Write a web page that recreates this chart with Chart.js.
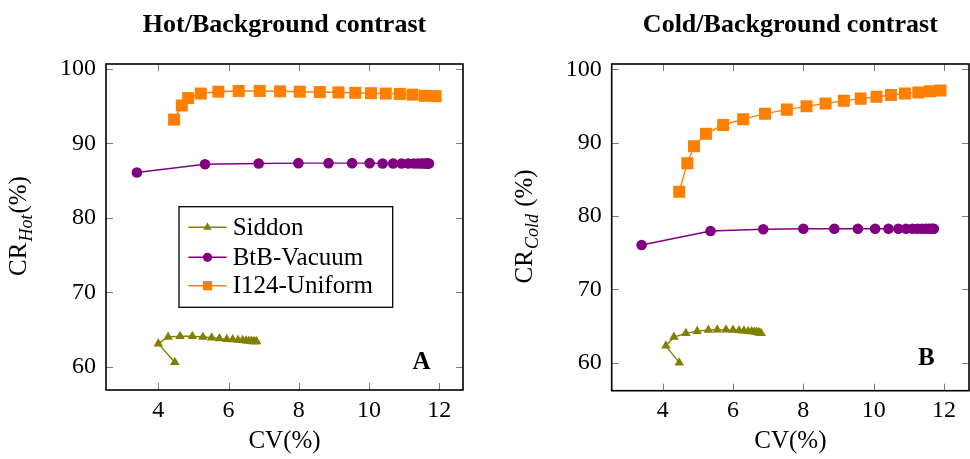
<!DOCTYPE html>
<html>
<head>
<meta charset="utf-8">
<script src="https://cdn.jsdelivr.net/npm/chart.js@4.4.1/dist/chart.umd.min.js"></script>
<style>
  html, body { margin: 0; padding: 0; background: #fff; }
  #wrap { position: relative; width: 970px; height: 459px; overflow: hidden; background: #fff; }
  canvas { position: absolute; top: 0; }
  #hotChart { left: 0; }
  #coldChart { left: 485px; }
</style>
</head>
<body>
<div id="wrap">
  <canvas id="hotChart" width="485" height="459"></canvas>
  <canvas id="coldChart" width="485" height="459"></canvas>
</div>
<script>
// Tick values shared by both panels
const xTicks = [4, 6, 8, 10, 12];
const yTicks = [60, 70, 80, 90, 100];
const seriesNames = ['Siddon', 'BtB-Vacuum', 'I124-Uniform'];

// Panel A: hot/background contrast, CV (%) vs CR (%)
const hotSiddonCV = [4.47, 4.00, 4.28, 4.62, 4.97, 5.27, 5.52, 5.74, 5.95, 6.12, 6.27, 6.40, 6.50, 6.58, 6.65, 6.70, 6.75, 6.80];
const hotSiddonCR = [60.6, 63.1, 64.0, 64.1, 64.1, 64.0, 63.9, 63.8, 63.7, 63.65, 63.6, 63.55, 63.5, 63.45, 63.45, 63.4, 63.4, 63.4];
const hotBtbCV = [3.39, 5.33, 6.86, 7.99, 8.85, 9.52, 10.02, 10.39, 10.69, 10.93, 11.12, 11.28, 11.40, 11.50, 11.58, 11.64, 11.68, 11.71];
const hotBtbCR = [86.1, 87.2, 87.3, 87.35, 87.35, 87.35, 87.35, 87.3, 87.3, 87.3, 87.3, 87.3, 87.3, 87.3, 87.3, 87.3, 87.3, 87.3];
const hotUniformCV = [4.45, 4.67, 4.85, 5.21, 5.71, 6.29, 6.89, 7.47, 8.03, 8.60, 9.13, 9.61, 10.06, 10.48, 10.88, 11.24, 11.59, 11.90];
const hotUniformCR = [93.2, 95.1, 96.1, 96.7, 96.95, 97.05, 97.05, 97.0, 96.95, 96.9, 96.85, 96.8, 96.75, 96.7, 96.65, 96.55, 96.4, 96.35];

// Panel B: cold/background contrast, CV (%) vs CR (%)
const coldSiddonCV = [4.47, 4.09, 4.32, 4.66, 4.98, 5.30, 5.55, 5.80, 6.00, 6.17, 6.31, 6.43, 6.53, 6.61, 6.67, 6.72, 6.76, 6.80];
const coldSiddonCR = [60.0, 62.3, 63.5, 64.0, 64.3, 64.45, 64.5, 64.5, 64.45, 64.4, 64.35, 64.3, 64.25, 64.2, 64.15, 64.1, 64.05, 64.0];
const coldBtbCV = [3.40, 5.36, 6.86, 8.00, 8.88, 9.55, 10.04, 10.42, 10.70, 10.92, 11.10, 11.25, 11.38, 11.48, 11.56, 11.62, 11.67, 11.71];
const coldBtbCR = [76.05, 77.95, 78.2, 78.25, 78.25, 78.25, 78.25, 78.25, 78.25, 78.25, 78.25, 78.25, 78.25, 78.25, 78.25, 78.25, 78.25, 78.25];
const coldUniformCV = [4.47, 4.70, 4.89, 5.23, 5.72, 6.29, 6.91, 7.53, 8.09, 8.63, 9.15, 9.63, 10.08, 10.49, 10.89, 11.27, 11.60, 11.90];
const coldUniformCR = [83.3, 87.2, 89.5, 91.2, 92.4, 93.2, 93.95, 94.5, 94.95, 95.35, 95.7, 96.0, 96.25, 96.5, 96.7, 96.85, 97.0, 97.1];

const serif = "'Liberation Serif', 'DejaVu Serif', serif";
const seriesColors = ['#808000', '#800080', '#ff8000'];
const seriesStyles = ['triangle', 'circle', 'rect'];
const seriesRadius = [5.5, 5.3, 8.5];

function makeSet(i, cv, cr) {
    return {
        label: seriesNames[i],
        data: cv.map((v, k) => ({ x: v, y: cr[k] })),
        borderColor: seriesColors[i],
        backgroundColor: seriesColors[i],
        pointStyle: seriesStyles[i],
        pointRadius: seriesRadius[i],
        pointHoverRadius: seriesRadius[i],
        pointBorderWidth: 0,
        borderWidth: 1.4,
        showLine: true,
        tension: 0
    };
}

// small marker used for the legend samples
function drawMarker(ctx, style, x, y, r) {
    ctx.beginPath();
    if (style === 'triangle') {
        ctx.moveTo(x, y - r);
        ctx.lineTo(x + r * 0.866, y + r * 0.5);
        ctx.lineTo(x - r * 0.866, y + r * 0.5);
        ctx.closePath();
    } else if (style === 'circle') {
        ctx.arc(x, y, r, 0, Math.PI * 2);
    } else {
        ctx.rect(x - r, y - r, 2 * r, 2 * r);
    }
    ctx.fill();
}

// Box, inner ticks, rotated y label with subscript, panel letter and legend
const framePlugin = {
    id: 'frame',
    afterDraw(chart, args, opts) {
        const { ctx, chartArea: a } = chart;
        const x = chart.scales.x, y = chart.scales.y;
        ctx.save();

        ctx.strokeStyle = '#7a7a7a';
        ctx.lineWidth = 1;
        ctx.beginPath();
        xTicks.forEach(v => {
            const px = Math.round(x.getPixelForValue(v)) + 0.5;
            ctx.moveTo(px, a.bottom); ctx.lineTo(px, a.bottom - 7);
            ctx.moveTo(px, a.top); ctx.lineTo(px, a.top + 7);
        });
        yTicks.forEach(v => {
            const py = Math.round(y.getPixelForValue(v)) + 0.5;
            ctx.moveTo(a.left, py); ctx.lineTo(a.left + 7, py);
            ctx.moveTo(a.right, py); ctx.lineTo(a.right - 7, py);
        });
        ctx.stroke();

        ctx.strokeStyle = '#000';
        ctx.lineWidth = 1.6;
        ctx.strokeRect(a.left, a.top, a.right - a.left, a.bottom - a.top);

        // panel letter
        ctx.fillStyle = '#000';
        ctx.font = 'bold 25px ' + serif;
        ctx.textAlign = 'center';
        ctx.textBaseline = 'middle';
        ctx.fillText(opts.letter, x.getPixelForValue(11.5), y.getPixelForValue(60.6));

        // legend (panel A only)
        if (opts.legend) {
            const lx = a.left + 73, ly = a.top + 142.7;
            ctx.fillStyle = '#fff';
            ctx.fillRect(lx, ly, 213.7, 100.6);
            ctx.strokeStyle = '#000';
            ctx.lineWidth = 1.3;
            ctx.strokeRect(lx, ly, 213.7, 100.6);
            const rows = [20.6, 50.6, 79];
            const legendR = [4.8, 4.6, 4.6];
            chart.data.datasets.forEach((ds, i) => {
                const ry = ly + rows[i];
                ctx.strokeStyle = ds.borderColor;
                ctx.lineWidth = 1.5;
                ctx.beginPath();
                ctx.moveTo(lx + 9.3, ry); ctx.lineTo(lx + 47.7, ry);
                ctx.stroke();
                ctx.fillStyle = ds.backgroundColor;
                drawMarker(ctx, ds.pointStyle, lx + 28.5, ry, legendR[i]);
                ctx.fillStyle = '#000';
                ctx.font = '25px ' + serif;
                ctx.textAlign = 'left';
                ctx.textBaseline = 'middle';
                ctx.fillText(ds.label, lx + 53.7, ry + 1);
            });
        }

        // y axis label: CR with italic subscript
        const mainFont = '25px ' + serif, subFont = 'italic 18px ' + serif;
        ctx.font = mainFont;
        const w1 = ctx.measureText('CR').width, w3 = ctx.measureText(opts.tail).width;
        ctx.font = subFont;
        const w2 = ctx.measureText(opts.sub).width;
        ctx.translate(a.left - 80, (a.top + a.bottom) / 2);
        ctx.rotate(-Math.PI / 2);
        ctx.fillStyle = '#000';
        ctx.textAlign = 'left';
        ctx.textBaseline = 'alphabetic';
        let cx = -(w1 + w2 + w3) / 2;
        ctx.font = mainFont; ctx.fillText('CR', cx, 0); cx += w1 + 1;
        ctx.font = subFont; ctx.fillText(opts.sub, cx, 6); cx += w2 + 1;
        ctx.font = mainFont; ctx.fillText(opts.tail, cx, 0);

        ctx.restore();
    }
};

function buildOptions(cfg) {
    const tickFont = { family: serif, size: 24 };
    return {
        responsive: false,
        animation: false,
        devicePixelRatio: 1,
        layout: { autoPadding: false, padding: { left: 0, right: cfg.padRight, top: 0, bottom: 0 } },
        plugins: {
            legend: { display: false },
            tooltip: { enabled: false },
            title: {
                display: true,
                text: cfg.title,
                fullSize: false,
                color: '#000',
                font: { family: serif, size: 26, weight: 'bold' },
                padding: { top: 9.4, bottom: 23.4 }
            },
            frame: { letter: cfg.letter, legend: cfg.legend, sub: cfg.sub, tail: cfg.tail }
        },
        scales: {
            x: {
                type: 'linear',
                min: cfg.xMin,
                max: cfg.xMax,
                afterBuildTicks: s => { s.ticks = xTicks.map(v => ({ value: v })); },
                afterFit: s => { s.height = cfg.xAxisHeight; s.paddingLeft = 0; s.paddingRight = 0; },
                grid: { display: false, drawTicks: false },
                border: { display: false },
                ticks: { color: '#000', font: tickFont, padding: 6, maxRotation: 0 },
                title: { display: true, text: 'CV(%)', color: '#000', font: { family: serif, size: 25 }, padding: { top: 0, bottom: 3 } }
            },
            y: {
                type: 'linear',
                min: cfg.yMin,
                max: cfg.yMax,
                afterBuildTicks: s => { s.ticks = yTicks.map(v => ({ value: v })); },
                afterFit: s => { s.width = cfg.yAxisWidth; s.paddingTop = 0; s.paddingBottom = 0; },
                grid: { display: false, drawTicks: false },
                border: { display: false },
                ticks: { color: '#000', font: tickFont, padding: 10 }
            }
        }
    };
}

const hotChart = new Chart(document.getElementById('hotChart').getContext('2d'), {
    type: 'scatter',
    data: {
        datasets: [
            makeSet(0, hotSiddonCV, hotSiddonCR),
            makeSet(1, hotBtbCV, hotBtbCR),
            makeSet(2, hotUniformCV, hotUniformCR)
        ]
    },
    options: buildOptions({
        title: 'Hot/Background contrast', letter: 'A', legend: true, sub: 'Hot', tail: '(%)',
        xMin: 2.51, xMax: 12.68, yMin: 56.87, yMax: 100.67,
        padRight: 22, yAxisWidth: 106, xAxisHeight: 69
    }),
    plugins: [framePlugin]
});

const coldChart = new Chart(document.getElementById('coldChart').getContext('2d'), {
    type: 'scatter',
    data: {
        datasets: [
            makeSet(0, coldSiddonCV, coldSiddonCR),
            makeSet(1, coldBtbCV, coldBtbCR),
            makeSet(2, coldUniformCV, coldUniformCR)
        ]
    },
    options: buildOptions({
        title: 'Cold/Background contrast', letter: 'B', legend: false, sub: 'Cold', tail: ' (%)',
        xMin: 2.55, xMax: 12.71, yMin: 56.18, yMax: 100.72,
        padRight: 1, yAxisWidth: 126.7, xAxisHeight: 68.3
    }),
    plugins: [framePlugin]
});
</script>
</body>
</html>
